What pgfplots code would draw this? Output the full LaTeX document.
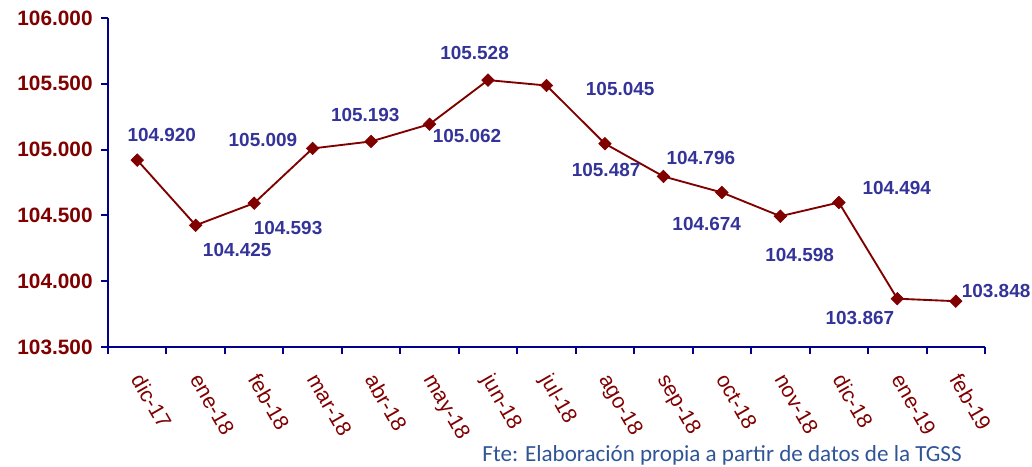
\documentclass[border=0pt]{standalone}
\usepackage{pgfplots}
\pgfplotsset{compat=1.18}
\usepackage{fontspec}
\setmainfont{Liberation Sans}
\newfontfamily\calibri{Carlito}
\definecolor{dred}{RGB}{128,0,0}
\definecolor{lblue}{RGB}{51,51,153}
\definecolor{navyax}{RGB}{0,0,140}
\definecolor{foot}{RGB}{47,85,151}
\tikzset{lbl/.style={font=\bfseries\fontsize{14.2}{14.2}\selectfont, text=lblue}}
\begin{document}
\begin{tikzpicture}
\begin{axis}[
  at={(0pt,0pt)}, anchor=south west,
  scale only axis, width=657.75pt, height=246.75pt,
  xmin=-0.5, xmax=14.5, ymin=103.5, ymax=106,
  axis x line*=bottom, axis y line*=left,
  axis line style={navyax, line width=1.5pt},
  tick style={navyax, line width=1.5pt},
  tick align=outside,
  major tick length=5pt,
  xtick={-0.5,0.5,...,14.5},
  xticklabels={},
  extra x ticks={0,1,...,14},
  extra x tick labels={dic-17,ene-18,feb-18,mar-18,abr-18,may-18,jun-18,jul-18,ago-18,sep-18,oct-18,nov-18,dic-18,ene-19,feb-19},
  extra x tick style={major tick length=0pt,
    tick label style={xshift=5pt, yshift=-18.5pt, rotate=-60, anchor=north west, inner sep=0pt, font=\fontsize{16}{16}\selectfont, text=dred}},
  ytick={103.5,104,104.5,105,105.5,106},
  yticklabels={103.500,104.000,104.500,105.000,105.500,106.000},
  yticklabel style={xshift=-3pt, font=\bfseries\fontsize{15.6}{15.6}\selectfont, text=dred},
  clip=false,
]
\addplot[dred, line width=1.4pt, mark=square*, mark options={rotate=45, fill=dred, draw=dred, line width=0.5pt}, mark size=3.3pt] coordinates {
(0,104.920) (1,104.425) (2,104.593) (3,105.009) (4,105.062) (5,105.193) (6,105.528) (7,105.487) (8,105.045) (9,104.796) (10,104.674) (11,104.494) (12,104.598) (13,103.867) (14,103.848)};
\node[lbl] at (axis cs:0.42,105.111) {104.920};
\node[lbl] at (axis cs:1.71,104.237) {104.425};
\node[lbl] at (axis cs:2.15,105.073) {105.009};
\node[lbl] at (axis cs:2.58,104.404) {104.593};
\node[lbl] at (axis cs:3.90,105.263) {105.193};
\node[lbl] at (axis cs:5.64,105.103) {105.062};
\node[lbl] at (axis cs:5.77,105.734) {105.528};
\node[lbl] at (axis cs:8.26,105.460) {105.045};
\node[lbl] at (axis cs:8.02,104.845) {105.487};
\node[lbl] at (axis cs:9.64,104.936) {104.796};
\node[lbl] at (axis cs:9.74,104.435) {104.674};
\node[lbl] at (axis cs:12.99,104.708) {104.494};
\node[lbl] at (axis cs:11.33,104.199) {104.598};
\node[lbl] at (axis cs:12.36,103.720) {103.867};
\node[lbl] at (axis cs:14.69,103.926) {103.848};
\end{axis}
\node[anchor=base east, inner sep=0pt, font=\calibri\fontsize{17.3}{17.3}\selectfont, text=foot] at (640.5pt,-86.25pt) {Fte: Elaboración propia a partir de datos de la TGSS};
\pgfresetboundingbox
\useasboundingbox (-81pt,-90pt) rectangle (693pt,260.25pt);
\end{tikzpicture}
\end{document}
